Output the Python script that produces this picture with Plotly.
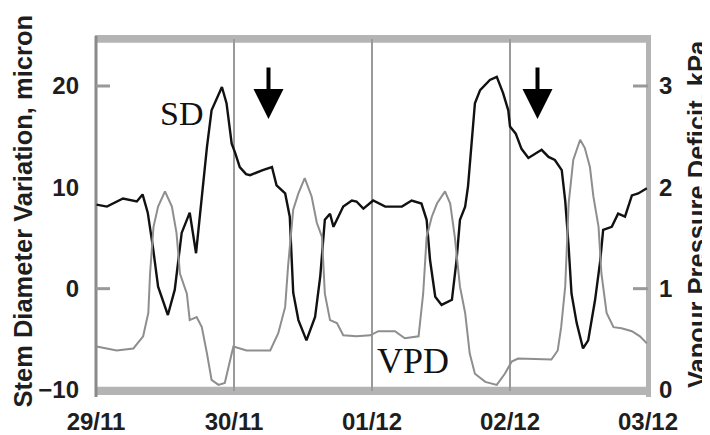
import pandas as pd
import plotly.graph_objects as go

# ---- data (hours since 29/11 00:00) ----
sd_hours = [0.1, 1.9, 4.7, 7.1, 8.1, 9.0, 9.9, 10.8, 12.5, 13.7, 14.9, 16.3, 17.4, 18.1,
            19.3, 20.1, 21.9, 22.7, 23.6, 24.2, 25.0, 26.1, 26.8, 29.0, 30.6, 31.4, 32.9,
            33.7, 34.3, 35.2, 36.6, 38.1, 39.0, 39.8, 40.7, 41.3, 43.0, 44.5, 45.3, 46.5,
            48.2, 50.3, 53.2, 54.9, 56.6, 57.5, 58.1, 59.0, 60.1, 61.9, 62.7, 63.3, 64.2,
            64.7, 65.3, 65.9, 66.8, 68.5, 69.7, 70.8, 71.7, 72.0, 73.0, 74.0, 75.2, 77.5,
            78.7, 79.8, 81.0, 81.6, 82.2, 82.7, 83.6, 84.7, 85.6, 86.8, 87.7, 88.2, 89.7,
            90.8, 92.0, 93.2, 94.3, 95.8]
sd_values = [8.3, 8.1, 8.9, 8.6, 9.3, 7.5, 4.1, 0.2, -2.6, -0.1, 5.5, 7.5, 3.5, 7.5,
             14.0, 17.6, 19.9, 18.3, 14.3, 13.4, 12.0, 11.3, 11.2, 11.7, 12.0, 10.2, 9.4,
             7.1, -0.4, -3.1, -5.1, -2.8, 1.2, 6.8, 7.4, 6.1, 8.1, 8.7, 8.6, 7.9,
             8.7, 8.1, 8.1, 8.7, 8.4, 6.8, 2.8, -0.8, -1.6, -1.1, 2.8, 6.8, 8.1,
             10.1, 14.0, 18.3, 19.6, 20.6, 20.9, 19.3, 17.6, 16.0, 15.3, 13.8, 12.9, 13.7,
             13.0, 12.7, 11.7, 8.7, 4.1, -0.5, -3.4, -5.9, -5.1, -1.1, 2.8, 5.8, 6.1,
             7.4, 7.1, 9.2, 9.4, 9.9]

vpd_hours = [0.1, 3.6, 6.5, 8.2, 9.1, 9.4, 10.0, 10.8, 12.0, 13.2, 14.0, 14.6, 15.8, 16.3,
             17.5, 18.4, 19.3, 20.1, 21.3, 22.4, 23.6, 23.9, 26.2, 30.3, 31.7, 32.9, 33.4,
             34.3, 35.2, 36.3, 37.5, 38.4, 39.3, 39.8, 40.7, 41.9, 43.0, 45.3, 47.7, 49.1,
             52.0, 53.7, 56.1, 56.9, 57.5, 58.4, 59.3, 60.7, 61.6, 62.4, 63.3, 64.2, 65.0,
             65.9, 67.7, 69.7, 71.1, 72.3, 73.4, 76.9, 79.2, 80.3, 80.9, 81.6, 82.2, 83.0,
             84.2, 85.0, 85.9, 86.5, 87.4, 87.9, 88.8, 90.0, 91.4, 93.2, 94.6, 95.8]
vpd_values = [0.43, 0.39, 0.41, 0.53, 0.76, 1.15, 1.61, 1.81, 1.96, 1.81, 1.55, 1.15, 0.95, 0.69,
              0.72, 0.62, 0.36, 0.10, 0.05, 0.07, 0.36, 0.43, 0.39, 0.39, 0.56, 0.82, 1.22,
              1.78, 1.94, 2.09, 1.91, 1.65, 1.51, 0.95, 0.69, 0.66, 0.54, 0.53, 0.54, 0.58,
              0.58, 0.51, 0.53, 0.95, 1.51, 1.71, 1.84, 1.96, 1.84, 1.51, 1.02, 0.76, 0.36,
              0.16, 0.08, 0.05, 0.16, 0.28, 0.31, 0.30, 0.30, 0.39, 0.62, 1.02, 1.84, 2.27,
              2.47, 2.39, 2.20, 1.91, 1.61, 1.15, 0.76, 0.62, 0.61, 0.58, 0.53, 0.46]

day_ticks = ["2005-11-29", "2005-11-30", "2005-12-01", "2005-12-02", "2005-12-03"]
day_labels = ["29/11", "30/11", "01/12", "02/12", "03/12"]
sd_ticks = [-10, 0, 10, 20]
vpd_ticks = [0, 1, 2, 3]

base = pd.Timestamp(day_ticks[0])
sd_t = base + pd.to_timedelta(sd_hours, unit="h")
vpd_t = base + pd.to_timedelta(vpd_hours, unit="h")

# the page body has an 8px margin, so the figure is shrunk to fit the window
OFF = 8
W, H = 710 - OFF, 435 - OFF
L, R, T, B = 96 - OFF, 62, 39 - OFF, 44
pw, ph = W - L - R, H - T - B

def px(x):  # x in window pixels
    return (x - OFF - L) / pw

def py(y):  # y in window pixels
    return (H - B - (y - OFF)) / ph

TICKFONT = dict(family="Liberation Sans", size=24, color="#1e1e1e", weight="bold")
TITLEFONT = dict(family="Liberation Sans", size=25.5, color="#1e1e1e", weight="bold")

fig = go.Figure()
fig.add_trace(go.Scatter(x=vpd_t, y=vpd_values, yaxis="y2", mode="lines",
                         line=dict(color="#8e8e8e", width=2), showlegend=False))
fig.add_trace(go.Scatter(x=sd_t, y=sd_values, mode="lines",
                         line=dict(color="#111111", width=2.4), showlegend=False))

fig.update_layout(
    template="none",
    width=W, height=H,
    margin=dict(l=L, r=R, t=T, b=B, autoexpand=False),
    paper_bgcolor="white", plot_bgcolor="white",
    xaxis=dict(type="date", range=[day_ticks[0], day_ticks[-1]],
               tickvals=day_ticks, ticktext=day_labels, ticks="",
               showgrid=True, gridcolor="#9a9a9a", gridwidth=2,
               zeroline=False, showline=False, tickfont=TICKFONT,
               ticklabelstandoff=14, automargin=False),
    yaxis=dict(range=[-10.099, 24.638], tickvals=sd_ticks, ticks="",
               showgrid=False, zeroline=False, showline=False,
               tickfont=TICKFONT, ticklabelstandoff=16, automargin=False),
    yaxis2=dict(range=[-0.0099, 3.4638], tickvals=vpd_ticks, ticks="",
                overlaying="y", side="right", showgrid=False, zeroline=False,
                showline=False, tickfont=TICKFONT, ticklabelstandoff=10,
                automargin=False),
)

band = "#b4b4b4"
shapes = [
    dict(type="rect", xref="paper", yref="paper", x0=px(95), x1=px(651),
         y0=py(42.7), y1=py(35), fillcolor=band, line_width=0, layer="between"),
    dict(type="rect", xref="paper", yref="paper", x0=px(95), x1=px(651),
         y0=py(395), y1=py(386.7), fillcolor=band, line_width=0, layer="between"),
    dict(type="line", xref="paper", yref="paper", x0=0, x1=0, y0=py(397), y1=py(36),
         line=dict(color="#8a8a8a", width=3), layer="between"),
    dict(type="line", xref="paper", yref="paper", x0=px(648.5), x1=px(648.5), y0=py(397), y1=py(35),
         line=dict(color=band, width=5), layer="between"),
    dict(type="line", xref="paper", yref="y", x0=0, x1=px(110), y0=20, y1=20,
         line=dict(color="#999999", width=3), layer="between"),
    dict(type="line", xref="paper", yref="y", x0=0, x1=px(110), y0=0, y1=0,
         line=dict(color="#999999", width=3), layer="between"),
    dict(type="line", xref="paper", yref="y2", x0=px(633), x1=1, y0=3, y1=3,
         line=dict(color="#999999", width=3), layer="between"),
    dict(type="line", xref="paper", yref="y2", x0=px(633), x1=1, y0=1, y1=1,
         line=dict(color="#999999", width=3), layer="between"),
]
fig.update_layout(shapes=shapes)

annotations = [
    dict(text="Stem Diameter Variation, micron", textangle=-90, xref="paper", yref="paper",
         x=px(22), y=py(211.5), xanchor="center", yanchor="middle", showarrow=False,
         font=TITLEFONT),
    dict(text="Vapour Pressure Deficit, kPa", textangle=-90, xref="paper", yref="paper",
         x=px(697), y=py(214), xanchor="center", yanchor="middle", showarrow=False,
         font=TITLEFONT),
    dict(text="SD", xref="paper", yref="paper", x=px(181), y=py(114),
         xanchor="center", yanchor="middle", showarrow=False,
         font=dict(family="Liberation Serif", size=34, color="#111111")),
    dict(text="VPD", xref="paper", yref="paper", x=px(413), y=py(361),
         xanchor="center", yanchor="middle", showarrow=False,
         font=dict(family="Liberation Serif", size=36, color="#111111")),
    dict(text="", xref="paper", yref="paper", x=px(268.5), y=py(119), ax=0, ay=-53,
         showarrow=True, arrowhead=2, arrowwidth=4, arrowsize=1.5, arrowcolor="#000000"),
    dict(text="", xref="paper", yref="paper", x=px(537.5), y=py(119), ax=0, ay=-53,
         showarrow=True, arrowhead=2, arrowwidth=4, arrowsize=1.5, arrowcolor="#000000"),
]
fig.update_layout(annotations=annotations)

fig.write_html("out.html")
